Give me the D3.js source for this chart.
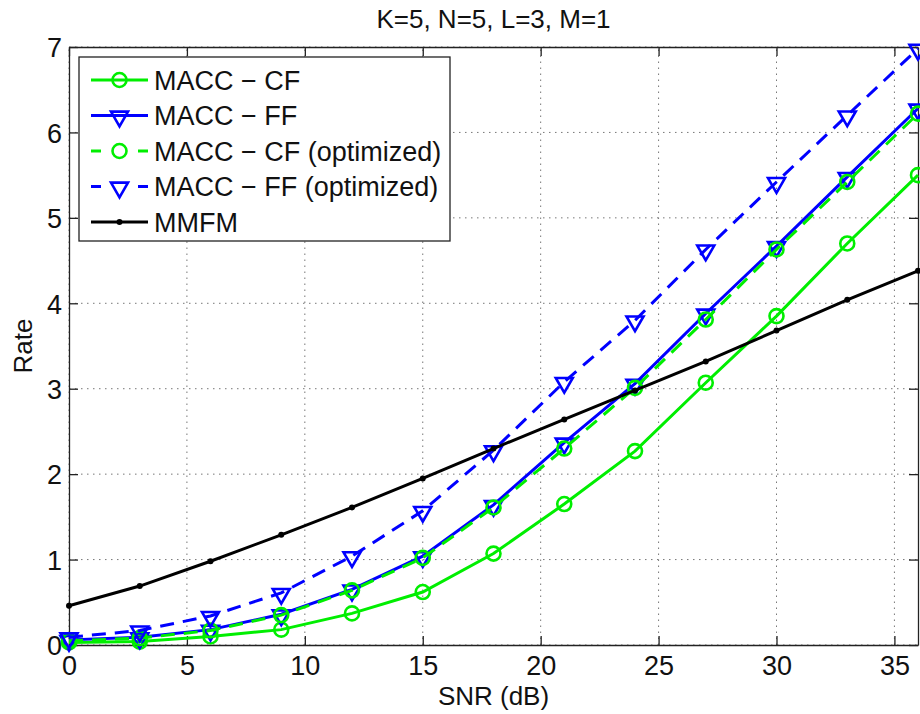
<!DOCTYPE html>
<html><head><meta charset="utf-8">
<script src="https://cdn.jsdelivr.net/npm/d3@7"></script>
<style>body{margin:0;background:#fff;} svg{display:block;}</style>
</head><body>
<svg id="chart" width="920" height="714"></svg>
<script>
// ---- data ----
const snr = [0, 3, 6, 9, 12, 15, 18, 21, 24, 27, 30, 33, 36];
const maccCF    = [0.03, 0.04, 0.10, 0.18, 0.37, 0.62, 1.07, 1.65, 2.27, 3.07, 3.85, 4.70, 5.50];
const maccFF    = [0.06, 0.09, 0.18, 0.36, 0.65, 1.04, 1.64, 2.37, 3.06, 3.88, 4.67, 5.48, 6.28];
const maccCFopt = [0.05, 0.08, 0.17, 0.35, 0.64, 1.02, 1.61, 2.30, 3.01, 3.81, 4.63, 5.42, 6.22];
const maccFFopt = [0.09, 0.17, 0.34, 0.61, 1.04, 1.57, 2.28, 3.08, 3.80, 4.63, 5.42, 6.20, 6.98];
const mmfm      = [0.46, 0.69, 0.98, 1.29, 1.61, 1.95, 2.30, 2.64, 2.98, 3.32, 3.68, 4.04, 4.38];
const xTicks = [0, 5, 10, 15, 20, 25, 30, 35];
const yTicks = [0, 1, 2, 3, 4, 5, 6, 7];
const seriesNames = ["MACC \u2212 CF", "MACC \u2212 FF", "MACC \u2212 CF (optimized)", "MACC \u2212 FF (optimized)", "MMFM"];
const titleText = "K=5, N=5, L=3, M=1";
const xLabel = "SNR (dB)";
const yLabel = "Rate";

// ---- layout ----
const L = 69, R = 918, T = 47, B = 645;
const FONT = "'Liberation Sans', Arial, Helvetica, sans-serif";
const FS = 27;
const svg = d3.select("#chart").style("font-family", FONT);
svg.append("rect").attr("width", 920).attr("height", 714).attr("fill", "#fff");

const x = d3.scaleLinear().domain([0, 36]).range([L, R]);
const y = d3.scaleLinear().domain([0, 7]).range([B, T]);

// grid
const grid = svg.append("g").attr("stroke", "#777").attr("stroke-width", 1)
  .attr("stroke-dasharray", "1.5,4.5");
xTicks.forEach(t => grid.append("line").attr("x1", x(t)).attr("x2", x(t)).attr("y1", B).attr("y2", T));
yTicks.forEach(t => grid.append("line").attr("x1", L).attr("x2", R).attr("y1", y(t)).attr("y2", y(t)));

// axes (inward ticks on all sides)
const tl = 9;
const fmt = d => String(d);
const axB = svg.append("g").attr("transform", `translate(0,${B})`)
  .call(d3.axisBottom(x).tickValues(xTicks).tickFormat(fmt).tickSizeInner(-tl).tickSizeOuter(0).tickPadding(11));
const axT = svg.append("g").attr("transform", `translate(0,${T})`)
  .call(d3.axisTop(x).tickValues(xTicks).tickSizeInner(-tl).tickSizeOuter(0).tickFormat(""));
const axL = svg.append("g").attr("transform", `translate(${L},0)`)
  .call(d3.axisLeft(y).tickValues(yTicks).tickFormat(fmt).tickSizeInner(-tl).tickSizeOuter(0).tickPadding(7));
const axR = svg.append("g").attr("transform", `translate(${R},0)`)
  .call(d3.axisRight(y).tickValues(yTicks).tickSizeInner(-tl).tickSizeOuter(0).tickFormat(""));
[axB, axT, axL, axR].forEach(a => {
  a.selectAll("path.domain").attr("stroke", "#222").attr("stroke-width", 1.3);
  a.selectAll(".tick line").attr("stroke", "#222").attr("stroke-width", 1.3);
  a.selectAll("text").attr("font-family", FONT).attr("font-size", FS).attr("fill", "#111");
});
axB.selectAll("text").attr("dy", "0.71em");
axL.selectAll("text").attr("dy", "0.36em");

// series
const GREEN = "#00ee00", BLUE = "#0000ff", BLACK = "#000";
const series = [
  {name: seriesNames[0], vals: maccCF,    color: GREEN, dash: null,   marker: "circle"},
  {name: seriesNames[1], vals: maccFF,    color: BLUE,  dash: null,   marker: "tri"},
  {name: seriesNames[2], vals: maccCFopt, color: GREEN, dash: "14,9", marker: "circle"},
  {name: seriesNames[3], vals: maccFFopt, color: BLUE,  dash: "14,9", marker: "tri"},
  {name: seriesNames[4], vals: mmfm,      color: BLACK, dash: null,   marker: "dot"}
];
const line = d3.line().x(d => x(d[0])).y(d => y(d[1]));
const triPath = d3.symbol().type(d3.symbolTriangle).size(125)();

function drawMarker(g, kind, cx, cy, color) {
  if (kind === "circle") {
    g.append("circle").attr("cx", cx).attr("cy", cy).attr("r", 7)
      .attr("fill", "none").attr("stroke", color).attr("stroke-width", 2.6);
  } else if (kind === "tri") {
    g.append("path").attr("d", triPath)
      .attr("transform", `translate(${cx},${cy + 1}) rotate(180)`)
      .attr("fill", "none").attr("stroke", color).attr("stroke-width", 2.6).attr("stroke-linejoin", "miter");
  } else {
    g.append("circle").attr("cx", cx).attr("cy", cy).attr("r", 3).attr("fill", color);
  }
}

series.forEach(s => {
  const g = svg.append("g");
  const pts = snr.map((v, i) => [v, s.vals[i]]);
  g.append("path").attr("d", line(pts)).attr("fill", "none")
    .attr("stroke", s.color).attr("stroke-width", 3)
    .attr("stroke-dasharray", s.dash);
  pts.forEach(p => drawMarker(g, s.marker, x(p[0]), y(p[1]), s.color));
});

// legend
const lg = svg.append("g");
lg.append("rect").attr("x", 79).attr("y", 57).attr("width", 371).attr("height", 184)
  .attr("fill", "#fff").attr("stroke", "#222").attr("stroke-width", 1.3);
series.forEach((s, i) => {
  const cy = 80 + i * 35.5;
  if (s.dash) {
    lg.append("line").attr("x1", 91).attr("x2", 101).attr("y1", cy).attr("y2", cy)
      .attr("stroke", s.color).attr("stroke-width", 3);
    lg.append("line").attr("x1", 138).attr("x2", 148).attr("y1", cy).attr("y2", cy)
      .attr("stroke", s.color).attr("stroke-width", 3);
  } else {
    lg.append("line").attr("x1", 91).attr("x2", 148).attr("y1", cy).attr("y2", cy)
      .attr("stroke", s.color).attr("stroke-width", 3);
  }
  drawMarker(lg, s.marker, 119.5, cy, s.color);
  lg.append("text").attr("x", 154).attr("y", cy).attr("dy", "0.36em")
    .attr("font-size", FS).attr("fill", "#111").text(s.name);
});

// title and labels
svg.append("text").attr("x", (L + R) / 2).attr("y", 28).attr("text-anchor", "middle")
  .attr("font-size", 26).attr("fill", "#111").text(titleText);
svg.append("text").attr("x", (L + R) / 2).attr("y", 705).attr("text-anchor", "middle")
  .attr("font-size", 26).attr("fill", "#111").text(xLabel);
svg.append("text").attr("transform", `translate(32,${(T + B) / 2}) rotate(-90)`)
  .attr("text-anchor", "middle").attr("font-size", 26).attr("fill", "#111").text(yLabel);
</script>
</body></html>
